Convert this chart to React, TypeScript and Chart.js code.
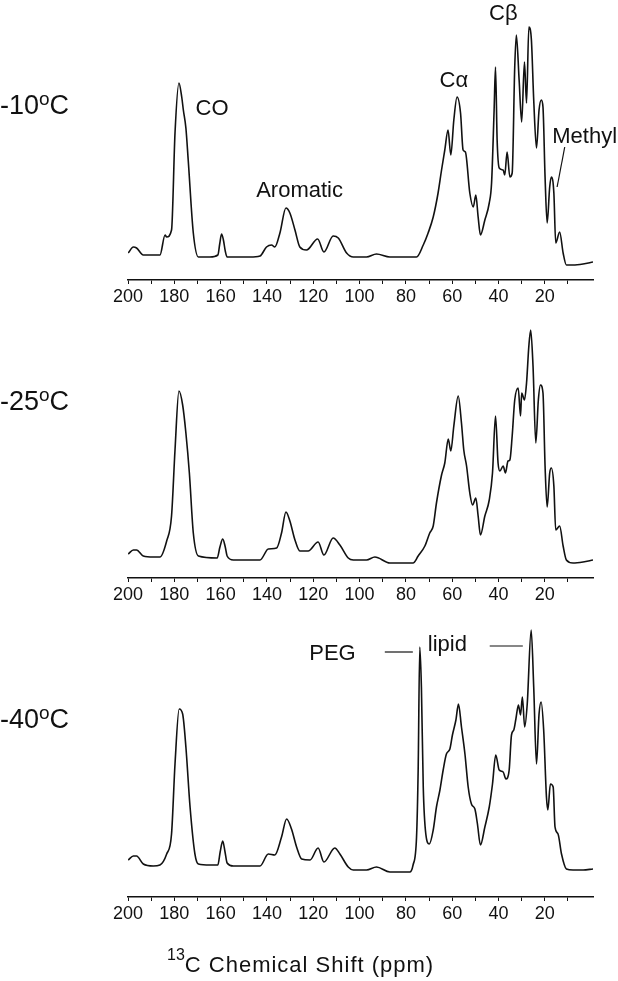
import React, { useEffect, useRef } from 'react';
import { Chart, registerables } from 'chart.js';
Chart.register(...registerables);

const FONT = '"Liberation Sans", Arial, Helvetica, sans-serif';
const INK = '#111111';

// x axis (ppm, reversed)
const PPM_MIN = -0.8;
const PPM_MAX = 200;
const TICK_VALUES = [200, 190, 180, 170, 160, 150, 140, 130, 120, 110, 100, 90, 80, 70, 60, 50, 40, 30, 20, 10];
const LABELED_STEP = 20;

// -10 oC spectrum
const PPM_M10 = [199.9,197.7,196.3,193.4,189.1,186.2,184.0,183.3,181.2,179.7,178.0,176.8,176.1,175.0,174.0,171.8,169.6,164.6,161.2,160.4,159.6,158.8,158.0,157.2,154.5,147.3,143.0,140.2,138.0,136.6,134.4,131.8,130.1,127.9,125.8,122.9,118.1,115.4,111.4,109.2,105.6,102.7,97.0,92.7,86.9,78.3,75.4,72.5,70.4,68.2,66.1,64.6,63.2,61.8,60.6,59.3,57.9,56.4,55.3,54.3,52.4,50.9,49.8,48.8,47.8,45.9,44.0,43.0,41.9,41.3,40.6,39.7,38.0,37.3,36.3,35.1,34.1,33.0,32.3,31.1,30.0,28.8,27.9,26.9,25.8,24.8,23.6,22.5,21.5,20.8,19.9,19.0,17.9,17.2,16.1,15.3,13.6,12.1,10.7,7.8,3.5,-0.8];
const INT_M10 = [27,33,32,25,25,25,45,43,50,147,197,183,170,152,120,47,23,23,25,36,46,40,29,23,23,23,24,33,35,33,47,72,67,50,33,30,41,28,44,42,27,23,23,26,23,23,23,35,47,63,87,110,130,150,125,160,183,167,130,128,87,73,85,63,45,60,77,97,170,213,140,112,110,105,128,103,107,213,245,200,158,218,177,253,240,180,132,170,180,173,103,57,93,103,87,37,48,27,15,15,16,18];

// -25 oC spectrum
const PPM_M25 = [199.9,197.7,196.3,193.4,189.1,186.2,183.3,181.2,179.7,178.0,176.4,175.0,173.5,171.8,169.6,161.5,160.3,159.1,158.0,157.2,154.5,143.0,139.4,135.8,133.7,131.8,130.1,127.9,125.8,122.2,117.9,115.4,111.4,108.5,104.9,102.7,97.0,93.4,86.9,76.9,74.7,71.8,69.7,68.2,66.8,64.6,63.2,61.7,60.6,59.3,57.4,56.0,55.0,53.8,52.4,51.2,49.8,48.8,47.8,45.9,44.0,42.6,41.3,40.2,39.4,38.0,37.0,35.9,35.1,34.1,33.0,31.5,30.5,30.0,28.8,27.9,26.9,26.1,25.1,23.9,22.8,21.9,20.8,19.9,19.0,17.9,17.2,16.1,15.3,13.6,12.1,10.7,7.8,3.5,-0.8];
const INT_M25 = [24,28,28,22,21,21,37,62,128,187,173,145,105,45,22,20,31,39,31,22,18,18,29,30,45,66,57,38,27,27,36,23,40,33,20,18,18,21,15,15,22,32,45,52,75,103,115,139,127,152,182,155,128,112,85,73,80,62,43,62,78,105,162,115,107,112,105,117,118,142,178,190,162,185,178,195,232,248,212,135,178,193,185,112,71,105,110,92,48,52,32,18,15,16,18];

// -40 oC spectrum
const PPM_M40 = [199.9,197.7,196.3,193.4,189.1,186.2,183.3,181.2,179.7,177.9,176.4,175.0,173.2,171.1,169.6,164.6,161.2,160.2,159.1,158.1,157.2,154.5,143.0,139.4,136.6,133.7,131.5,129.4,127.2,125.0,121.4,117.9,115.4,110.7,108.5,104.9,102.7,97.0,92.7,86.9,78.3,76.9,75.4,74.7,74.0,73.3,72.5,71.4,69.9,68.2,66.8,65.3,63.9,62.5,61.0,59.9,58.4,57.3,56.0,54.5,53.1,51.7,50.2,49.1,47.8,45.9,44.0,42.6,41.2,39.7,38.0,36.8,35.4,34.4,33.4,32.5,31.4,30.5,29.7,28.7,27.6,25.9,24.8,23.6,22.5,21.6,20.5,19.3,18.7,17.6,16.4,15.6,14.3,12.8,10.7,7.8,3.5,-0.8];
const INT_M40 = [37,41,41,33,31,32,43,63,133,188,183,150,90,43,33,32,32,45,56,45,34,31,31,43,42,60,78,68,50,38,37,49,35,49,43,30,27,27,30,25,25,32,60,127,250,210,110,63,53,67,90,107,127,143,148,162,177,193,170,143,110,93,88,73,52,70,90,113,142,127,125,118,127,162,167,178,192,182,200,170,193,267,210,133,183,195,167,100,87,113,110,70,63,43,28,27,27,28];

// peak labels (text, ppm, intensity)
const NOTE_TEXT_1 = ['CO', 'Aromatic', 'C\u03B1', 'C\u03B2', 'Methyl'];
const NOTE_PPM_1 = [163.7, 125.9, 59.3, 37.9, 2.8];
const NOTE_INT_1 = [165, 83, 193, 260, 137];
const NOTE_TEXT_3 = ['PEG', 'lipid'];
const NOTE_PPM_3 = [111.7, 62.1];
const NOTE_INT_3 = [237, 246];
// leader lines [ppm1, int1, ppm2, int2]
const LEADERS_1 = [[11.4, 133, 14.7, 93]];
const LEADERS_3 = [[89.1, 245, 77.0, 245], [43.8, 251, 29.5, 251]];

type Part = { t: string; size: number; rise?: number; spacing?: number };
type TextBlock = { x: number; y: number; parts: Part[] };

type Cfg = {
  ppm: number[];
  ints: number[];
  top: number;
  height: number;
  axisBox: number;
  notes: { text: string; ppm: number; val: number }[];
  leaders: number[][];
  texts: TextBlock[];
};

function makeOverlay(cfg: Cfg) {
  return {
    id: 'overlay',
    afterDraw(chart: any) {
      const ctx = chart.ctx as CanvasRenderingContext2D;
      const xs = chart.scales.x;
      const ys = chart.scales.y;
      ctx.save();
      ctx.fillStyle = INK;
      ctx.strokeStyle = INK;
      ctx.textBaseline = 'alphabetic';
      for (const n of cfg.notes) {
        ctx.font = `22px ${FONT}`;
        ctx.textAlign = 'center';
        ctx.fillText(n.text, xs.getPixelForValue(n.ppm), ys.getPixelForValue(n.val));
      }
      ctx.lineWidth = 1.2;
      for (const l of cfg.leaders) {
        ctx.beginPath();
        ctx.moveTo(xs.getPixelForValue(l[0]), ys.getPixelForValue(l[1]));
        ctx.lineTo(xs.getPixelForValue(l[2]), ys.getPixelForValue(l[3]));
        ctx.stroke();
      }
      ctx.textAlign = 'left';
      for (const tb of cfg.texts) {
        let x = tb.x;
        for (const p of tb.parts) {
          ctx.font = `${p.size}px ${FONT}`;
          (ctx as any).letterSpacing = `${p.spacing || 0}px`;
          ctx.fillText(p.t, x, tb.y - (p.rise || 0));
          x += ctx.measureText(p.t).width;
        }
        (ctx as any).letterSpacing = '0px';
      }
      ctx.restore();
    },
  };
}

function Spectrum({ cfg }: { cfg: Cfg }) {
  const ref = useRef<HTMLCanvasElement | null>(null);
  useEffect(() => {
    if (!ref.current) return;
    const yMax = cfg.height - cfg.axisBox;
    const chart = new Chart(ref.current, {
      type: 'line',
      data: {
        datasets: [
          {
            data: cfg.ppm.map((p, i) => ({ x: p, y: cfg.ints[i] })),
            borderColor: INK,
            borderWidth: 1.6,
            pointRadius: 0,
            cubicInterpolationMode: 'monotone',
            fill: false,
          },
        ],
      },
      options: {
        responsive: false,
        animation: false,
        devicePixelRatio: 1,
        layout: { padding: { left: 128, right: 25, top: 0, bottom: 0 } },
        plugins: { legend: { display: false }, tooltip: { enabled: false }, title: { display: false } },
        scales: {
          x: {
            type: 'linear',
            reverse: true,
            min: PPM_MIN,
            max: PPM_MAX,
            afterBuildTicks: (s: any) => {
              s.ticks = TICK_VALUES.map((v) => ({ value: v }));
            },
            afterFit: (s: any) => {
              s.height = cfg.axisBox;
            },
            ticks: {
              autoSkip: false,
              maxRotation: 0,
              padding: 2,
              color: INK,
              font: { family: FONT, size: 18 },
              callback: (v: any) => (Number(v) % LABELED_STEP === 0 ? String(v) : ''),
            },
            grid: { display: true, drawOnChartArea: false, drawTicks: true, tickLength: 4, color: INK, lineWidth: 1 },
            border: { display: true, color: INK, width: 1.5 },
          },
          y: { type: 'linear', display: false, min: 0, max: yMax },
        },
      },
      plugins: [makeOverlay(cfg)],
    } as any);
    return () => chart.destroy();
  }, [cfg]);
  return (
    <canvas
      ref={ref}
      width={618}
      height={cfg.height}
      style={{ position: 'absolute', left: 0, top: cfg.top, width: 618, height: cfg.height, display: 'block' }}
    />
  );
}

const tempLabel = (num: string, y: number): TextBlock => ({
  x: 0,
  y,
  parts: [
    { t: num, size: 27 },
    { t: 'o', size: 19, rise: 9 },
    { t: 'C', size: 27 },
  ],
});

const notes = (t: string[], p: number[], v: number[]) => t.map((s, i) => ({ text: s, ppm: p[i], val: v[i] }));

const CFG1: Cfg = {
  ppm: PPM_M10,
  ints: INT_M10,
  top: 0,
  height: 310,
  axisBox: 30,
  notes: notes(NOTE_TEXT_1, NOTE_PPM_1, NOTE_INT_1),
  leaders: LEADERS_1,
  texts: [tempLabel('-10', 114)],
};
const CFG2: Cfg = {
  ppm: PPM_M25,
  ints: INT_M25,
  top: 310,
  height: 300,
  axisBox: 32,
  notes: [],
  leaders: [],
  texts: [tempLabel('-25', 100)],
};
const CFG3: Cfg = {
  ppm: PPM_M40,
  ints: INT_M40,
  top: 610,
  height: 371,
  axisBox: 84,
  notes: notes(NOTE_TEXT_3, NOTE_PPM_3, NOTE_INT_3),
  leaders: LEADERS_3,
  texts: [
    tempLabel('-40', 118),
    {
      x: 167,
      y: 362,
      parts: [
        { t: '13', size: 16, rise: 12 },
        { t: 'C Chemical Shift (ppm)', size: 22, spacing: 1 },
      ],
    },
  ],
};

export default function App() {
  return (
    <div style={{ position: 'fixed', left: 0, top: 0, width: 618, height: 981, background: '#fff', overflow: 'hidden' }}>
      <Spectrum cfg={CFG1} />
      <Spectrum cfg={CFG2} />
      <Spectrum cfg={CFG3} />
    </div>
  );
}
